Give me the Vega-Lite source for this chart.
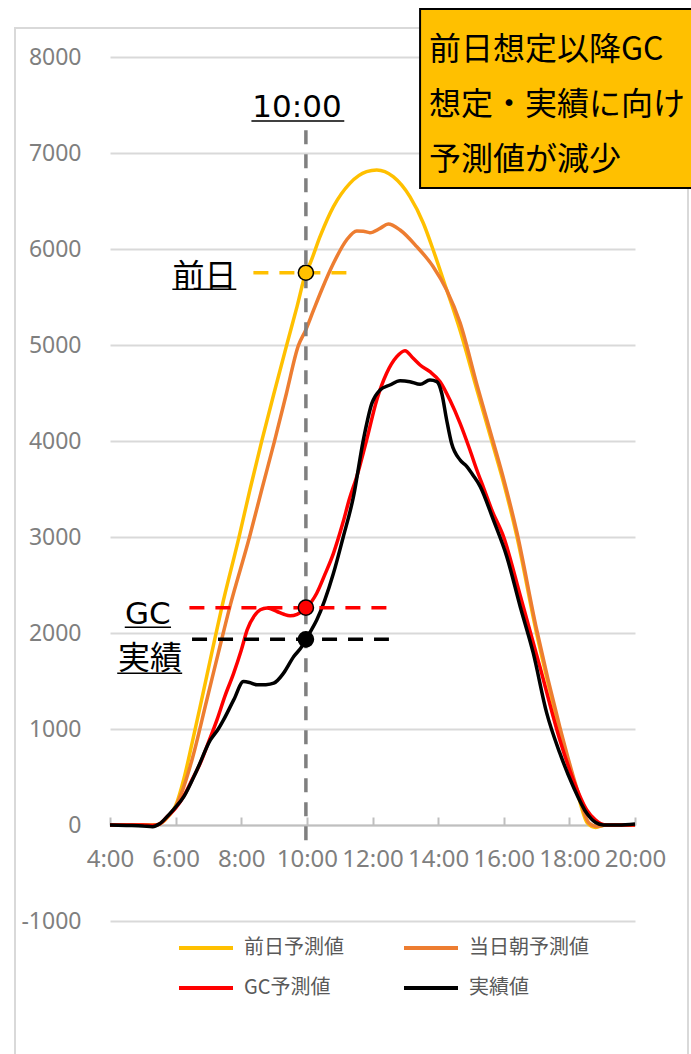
{
  "$schema": "https://vega.github.io/schema/vega-lite/v6.json",
  "width": 525,
  "height": 864,
  "autosize": {"type": "none"},
  "padding": {"left": 110, "top": 57, "right": 56, "bottom": 133},
  "background": "white",
  "config": {"view": {"stroke": null}, "font": "Noto Sans"},
  "resolve": {"axis": {"x": "independent", "y": "independent"}},
  "datasets": {
    "series": [
      {"s":"前日予測値","t":4,"v":0},{"s":"前日予測値","t":4.5,"v":0},{"s":"前日予測値","t":5,"v":0},{"s":"前日予測値","t":5.4,"v":0},{"s":"前日予測値","t":5.6,"v":30},{"s":"前日予測値","t":5.8,"v":100},{"s":"前日予測値","t":6.0,"v":200},{"s":"前日予測値","t":6.25,"v":480},{"s":"前日予測値","t":6.5,"v":850},{"s":"前日予測値","t":6.79,"v":1300},{"s":"前日予測値","t":7.1,"v":1790},{"s":"前日予測値","t":7.4,"v":2257},{"s":"前日予測値","t":7.93,"v":2997},{"s":"前日予測値","t":8.27,"v":3500},{"s":"前日予測値","t":8.62,"v":3993},{"s":"前日予測値","t":9.0,"v":4500},{"s":"前日予測値","t":9.38,"v":4993},{"s":"前日予測値","t":9.7,"v":5400},{"s":"前日予測値","t":9.97,"v":5753},{"s":"前日予測値","t":10.1,"v":5851},{"s":"前日予測値","t":10.4,"v":6128},{"s":"前日予測値","t":10.81,"v":6441},{"s":"前日予測値","t":11.31,"v":6684},{"s":"前日予測値","t":11.82,"v":6806},{"s":"前日予測値","t":12.13,"v":6823},{"s":"前日予測値","t":12.63,"v":6753},{"s":"前日予測値","t":13.14,"v":6545},{"s":"前日予測値","t":13.55,"v":6268},{"s":"前日予測値","t":13.85,"v":5990},{"s":"前日予測値","t":14.16,"v":5677},{"s":"前日予測値","t":14.67,"v":5150},{"s":"前日予測値","t":15.18,"v":4536},{"s":"前日予測値","t":15.68,"v":3945},{"s":"前日予測値","t":16.0,"v":3560},{"s":"前日予測値","t":16.4,"v":3007},{"s":"前日予測値","t":17.0,"v":1999},{"s":"前日予測値","t":17.71,"v":991},{"s":"前日予測値","t":18.22,"v":365},{"s":"前日予測値","t":18.55,"v":20},{"s":"前日予測値","t":18.8,"v":-25},{"s":"前日予測値","t":19.1,"v":0},{"s":"前日予測値","t":19.5,"v":0},{"s":"前日予測値","t":20,"v":0},
      {"s":"当日朝予測値","t":4,"v":0},{"s":"当日朝予測値","t":4.5,"v":0},{"s":"当日朝予測値","t":5,"v":0},{"s":"当日朝予測値","t":5.4,"v":0},{"s":"当日朝予測値","t":5.6,"v":30},{"s":"当日朝予測値","t":5.8,"v":100},{"s":"当日朝予測値","t":6.0,"v":190},{"s":"当日朝予測値","t":6.25,"v":400},{"s":"当日朝予測値","t":6.5,"v":680},{"s":"当日朝予測値","t":6.95,"v":1302},{"s":"当日朝予測値","t":7.3,"v":1790},{"s":"当日朝予測値","t":7.64,"v":2257},{"s":"当日朝予測値","t":8.25,"v":2997},{"s":"当日朝予測値","t":8.63,"v":3500},{"s":"当日朝予測値","t":9.01,"v":3993},{"s":"当日朝予測値","t":9.38,"v":4500},{"s":"当日朝予測値","t":9.74,"v":4993},{"s":"当日朝予測値","t":9.97,"v":5160},{"s":"当日朝予測値","t":10.2,"v":5360},{"s":"当日朝予測値","t":10.45,"v":5573},{"s":"当日朝予測値","t":10.81,"v":5851},{"s":"当日朝予測値","t":11.21,"v":6094},{"s":"当日朝予測値","t":11.52,"v":6188},{"s":"当日朝予測値","t":11.72,"v":6185},{"s":"当日朝予測値","t":11.92,"v":6170},{"s":"当日朝予測値","t":12.23,"v":6215},{"s":"当日朝予測値","t":12.48,"v":6260},{"s":"当日朝予測値","t":12.84,"v":6198},{"s":"当日朝予測値","t":13.35,"v":6024},{"s":"当日朝予測値","t":13.85,"v":5816},{"s":"当日朝予測値","t":14.26,"v":5573},{"s":"当日朝予測値","t":14.67,"v":5230},{"s":"当日朝予測値","t":15.18,"v":4590},{"s":"当日朝予測値","t":15.68,"v":3990},{"s":"当日朝予測値","t":16.0,"v":3600},{"s":"当日朝予測値","t":16.4,"v":3050},{"s":"当日朝予測値","t":17.0,"v":2040},{"s":"当日朝予測値","t":17.71,"v":1020},{"s":"当日朝予測値","t":18.22,"v":390},{"s":"当日朝予測値","t":18.6,"v":20},{"s":"当日朝予測値","t":18.85,"v":-15},{"s":"当日朝予測値","t":19.1,"v":0},{"s":"当日朝予測値","t":19.5,"v":0},{"s":"当日朝予測値","t":20,"v":0},
      {"s":"GC予測値","t":4,"v":0},{"s":"GC予測値","t":4.5,"v":0},{"s":"GC予測値","t":5,"v":0},{"s":"GC予測値","t":5.3,"v":-5},{"s":"GC予測値","t":5.5,"v":10},{"s":"GC予測値","t":5.75,"v":90},{"s":"GC予測値","t":6.0,"v":175},{"s":"GC予測値","t":6.25,"v":300},{"s":"GC予測値","t":6.5,"v":470},{"s":"GC予測値","t":6.75,"v":643},{"s":"GC予測値","t":7.0,"v":860},{"s":"GC予測値","t":7.26,"v":1095},{"s":"GC予測値","t":7.5,"v":1340},{"s":"GC予測値","t":7.77,"v":1582},{"s":"GC予測値","t":8.0,"v":1820},{"s":"GC予測値","t":8.18,"v":2033},{"s":"GC予測値","t":8.4,"v":2180},{"s":"GC予測値","t":8.58,"v":2242},{"s":"GC予測値","t":8.79,"v":2260},{"s":"GC予測値","t":9.09,"v":2224},{"s":"GC予測値","t":9.3,"v":2195},{"s":"GC予測値","t":9.49,"v":2180},{"s":"GC予測値","t":9.7,"v":2195},{"s":"GC予測値","t":9.85,"v":2225},{"s":"GC予測値","t":9.97,"v":2264},{"s":"GC予測値","t":10.15,"v":2330},{"s":"GC予測値","t":10.3,"v":2414},{"s":"GC予測値","t":10.55,"v":2610},{"s":"GC予測値","t":10.81,"v":2830},{"s":"GC予測値","t":11.1,"v":3150},{"s":"GC予測値","t":11.3,"v":3400},{"s":"GC予測値","t":11.52,"v":3628},{"s":"GC予測値","t":11.82,"v":4010},{"s":"GC予測値","t":12.13,"v":4427},{"s":"GC予測値","t":12.43,"v":4705},{"s":"GC予測値","t":12.74,"v":4878},{"s":"GC予測値","t":12.99,"v":4941},{"s":"GC予測値","t":13.24,"v":4861},{"s":"GC予測値","t":13.45,"v":4792},{"s":"GC予測値","t":13.75,"v":4722},{"s":"GC予測値","t":14.06,"v":4618},{"s":"GC予測値","t":14.36,"v":4427},{"s":"GC予測値","t":14.67,"v":4184},{"s":"GC予測値","t":14.97,"v":3906},{"s":"GC予測値","t":15.18,"v":3698},{"s":"GC予測値","t":15.4,"v":3500},{"s":"GC予測値","t":15.65,"v":3270},{"s":"GC予測値","t":15.99,"v":3007},{"s":"GC予測値","t":16.51,"v":2381},{"s":"GC予測値","t":17.1,"v":1651},{"s":"GC予測値","t":17.71,"v":886},{"s":"GC予測値","t":18.12,"v":469},{"s":"GC予測値","t":18.53,"v":156},{"s":"GC予測値","t":18.8,"v":50},{"s":"GC予測値","t":18.95,"v":15},{"s":"GC予測値","t":19.15,"v":0},{"s":"GC予測値","t":19.5,"v":0},{"s":"GC予測値","t":20,"v":0},
      {"s":"実績値","t":4,"v":0},{"s":"実績値","t":4.5,"v":-5},{"s":"実績値","t":5.0,"v":-10},{"s":"実績値","t":5.3,"v":-18},{"s":"実績値","t":5.5,"v":10},{"s":"実績値","t":5.74,"v":87},{"s":"実績値","t":6.0,"v":185},{"s":"実績値","t":6.25,"v":295},{"s":"実績値","t":6.65,"v":573},{"s":"実績値","t":7.06,"v":886},{"s":"実績値","t":7.3,"v":1000},{"s":"実績値","t":7.46,"v":1095},{"s":"実績値","t":7.77,"v":1303},{"s":"実績値","t":8.07,"v":1494},{"s":"実績値","t":8.25,"v":1485},{"s":"実績値","t":8.48,"v":1460},{"s":"実績値","t":8.75,"v":1462},{"s":"実績値","t":8.99,"v":1477},{"s":"実績値","t":9.29,"v":1582},{"s":"実績値","t":9.6,"v":1755},{"s":"実績値","t":9.85,"v":1860},{"s":"実績値","t":9.97,"v":1934},{"s":"実績値","t":10.1,"v":2010},{"s":"実績値","t":10.3,"v":2135},{"s":"実績値","t":10.81,"v":2622},{"s":"実績値","t":11.1,"v":2990},{"s":"実績値","t":11.42,"v":3420},{"s":"実績値","t":11.72,"v":4010},{"s":"実績値","t":11.98,"v":4392},{"s":"実績値","t":12.23,"v":4531},{"s":"実績値","t":12.53,"v":4583},{"s":"実績値","t":12.84,"v":4628},{"s":"実績値","t":13.14,"v":4618},{"s":"実績値","t":13.45,"v":4590},{"s":"実績値","t":13.75,"v":4635},{"s":"実績値","t":13.96,"v":4618},{"s":"実績値","t":14.11,"v":4497},{"s":"実績値","t":14.26,"v":4219},{"s":"実績値","t":14.41,"v":3976},{"s":"実績値","t":14.67,"v":3802},{"s":"実績値","t":14.87,"v":3736},{"s":"実績値","t":15.07,"v":3640},{"s":"実績値","t":15.28,"v":3528},{"s":"実績値","t":15.68,"v":3180},{"s":"実績値","t":16.09,"v":2798},{"s":"実績値","t":16.5,"v":2276},{"s":"実績値","t":16.9,"v":1790},{"s":"実績値","t":17.31,"v":1165},{"s":"実績値","t":17.71,"v":748},{"s":"実績値","t":18.12,"v":399},{"s":"実績値","t":18.53,"v":122},{"s":"実績値","t":18.8,"v":25},{"s":"実績値","t":19.03,"v":0},{"s":"実績値","t":19.5,"v":0},{"s":"実績値","t":20,"v":10}
    ],
    "ann": [
      {"s":"前日予測値","t":9.97,"v":5753,"t0":8.37,"t1":11.53},
      {"s":"GC予測値","t":9.97,"v":2264,"t0":6.42,"t1":12.45},
      {"s":"実績値","t":9.97,"v":1934,"t0":6.5,"t1":12.5}
    ],
    "latinLabels": [
      {"label":"10:00","t":9.7,"v":7470},
      {"label":"GC","t":5.15,"v":2190}
    ],
    "cjkLabels": [
      {"label":"前日","t":6.88,"v":5710},
      {"label":"実績","t":5.22,"v":1729}
    ],
    "underlines": [
      {"t0":8.31,"t1":11.14,"v":7333},
      {"t0":5.9,"t1":7.85,"v":5580},
      {"t0":4.45,"t1":5.86,"v":2059},
      {"t0":4.22,"t1":6.2,"v":1580}
    ],
    "boxText": [
      {"line":"前日想定以降GC","t":13.72,"v":8073},
      {"line":"想定・実績に向け","t":13.72,"v":7495},
      {"line":"予測値が減少","t":13.72,"v":6922}
    ],
    "one": [{"k": 1}]
  },
  "layer": [
    {
      "data": {"name": "series"},
      "mark": {"type": "line", "interpolate": "monotone", "strokeWidth": 3.5},
      "encoding": {
        "x": {"field": "t", "type": "quantitative",
              "scale": {"domain": [4, 20], "nice": false, "zero": false},
              "axis": {"title": null, "orient": "bottom", "values": [4,6,8,10,12,14,16,18,20], "labelExpr": "datum.value + ':00'",
                       "offset": -96, "grid": false, "domainColor": "#bfbfbf", "domainWidth": 2,
                       "tickColor": "#bfbfbf", "tickWidth": 2, "tickSize": -8,
                       "labelFontSize": 24, "labelColor": "#7f7f7f", "labelFont": "Noto Sans", "labelPadding": 30,
                       "labelOverlap": false, "labelFlush": false, "labelBound": false}},
        "y": {"field": "v", "type": "quantitative",
              "scale": {"domain": [-1000, 8000], "nice": false, "zero": false},
              "axis": {"title": null, "orient": "left", "values": [-1000,0,1000,2000,3000,4000,5000,6000,7000,8000],
                       "labelExpr": "'' + datum.value", "grid": true, "gridColor": "#d9d9d9", "gridWidth": 2,
                       "domain": false, "ticks": false, "labelFontSize": 23, "labelColor": "#7f7f7f",
                       "labelFont": "Noto Sans", "labelPadding": 29, "labelOverlap": false}},
        "color": {"field": "s", "type": "nominal",
                  "scale": {"domain": ["前日予測値","当日朝予測値","GC予測値","実績値"],
                            "range": ["#FFC000","#ED7D31","#FF0000","#000000"]},
                  "legend": {"title": null, "orient": "none", "legendX": 84, "legendY": 879,
                             "direction": "horizontal", "columns": 2,
                             "symbolType": "M-2.7,0H2.7", "symbolSize": 400, "symbolStrokeWidth": 4,
                             "labelFontSize": 20, "labelFont": "Noto Sans CJK JP", "labelColor": "#595959",
                             "labelOffset": 26, "columnPadding": 52, "rowPadding": 18, "labelLimit": 300}}
      }
    },
    {
      "data": {"name": "one"},
      "mark": {"type": "rect", "fill": null, "filled": false, "stroke": "#d9d9d9", "strokeWidth": 2},
      "encoding": {
        "x": {"datum": 1.105, "type": "quantitative", "axis": null},
        "x2": {"datum": 21.615},
        "y": {"datum": 8302, "type": "quantitative", "axis": null},
        "y2": {"datum": -2500}
      }
    },
    {
      "data": {"name": "one"},
      "mark": {"type": "rule", "color": "#7f7f7f", "strokeWidth": 3.5, "strokeDash": [14, 10]},
      "encoding": {
        "x": {"datum": 9.97, "type": "quantitative", "axis": null},
        "y": {"datum": -160, "type": "quantitative", "axis": null},
        "y2": {"datum": 7280}
      }
    },
    {
      "data": {"name": "ann"},
      "mark": {"type": "rule", "strokeWidth": 3.5, "strokeDash": [15, 11]},
      "encoding": {
        "x": {"field": "t0", "type": "quantitative", "axis": null},
        "x2": {"field": "t1"},
        "y": {"field": "v", "type": "quantitative", "axis": null},
        "color": {"field": "s", "type": "nominal", "legend": null}
      }
    },
    {
      "data": {"name": "ann"},
      "mark": {"type": "point", "filled": true, "size": 230, "stroke": "black", "strokeWidth": 1.5, "opacity": 1},
      "encoding": {
        "x": {"field": "t", "type": "quantitative", "axis": null},
        "y": {"field": "v", "type": "quantitative", "axis": null},
        "color": {"field": "s", "type": "nominal", "legend": null}
      }
    },
    {
      "data": {"name": "underlines"},
      "mark": {"type": "rule", "color": "black", "strokeWidth": 1.5},
      "encoding": {
        "x": {"field": "t0", "type": "quantitative", "axis": null},
        "x2": {"field": "t1"},
        "y": {"field": "v", "type": "quantitative", "axis": null}
      }
    },
    {
      "data": {"name": "latinLabels"},
      "mark": {"type": "text", "font": "DejaVu Sans", "fontSize": 31, "color": "black", "align": "center", "baseline": "middle"},
      "encoding": {
        "x": {"field": "t", "type": "quantitative", "axis": null},
        "y": {"field": "v", "type": "quantitative", "axis": null},
        "text": {"field": "label"}
      }
    },
    {
      "data": {"name": "cjkLabels"},
      "mark": {"type": "text", "font": "Noto Sans CJK JP", "fontSize": 32, "color": "black", "align": "center", "baseline": "middle"},
      "encoding": {
        "x": {"field": "t", "type": "quantitative", "axis": null},
        "y": {"field": "v", "type": "quantitative", "axis": null},
        "text": {"field": "label"}
      }
    },
    {
      "data": {"name": "one"},
      "mark": {"type": "rect", "fill": "#FFC000", "stroke": "black", "strokeWidth": 2},
      "encoding": {
        "x": {"datum": 13.45, "type": "quantitative", "axis": null},
        "x2": {"datum": 22.2},
        "y": {"datum": 8500, "type": "quantitative", "axis": null},
        "y2": {"datum": 6635}
      }
    },
    {
      "data": {"name": "boxText"},
      "mark": {"type": "text", "font": "Noto Sans CJK JP", "fontSize": 32, "color": "black", "align": "left", "baseline": "middle"},
      "encoding": {
        "x": {"field": "t", "type": "quantitative", "axis": null},
        "y": {"field": "v", "type": "quantitative", "axis": null},
        "text": {"field": "line"}
      }
    }
  ]
}
